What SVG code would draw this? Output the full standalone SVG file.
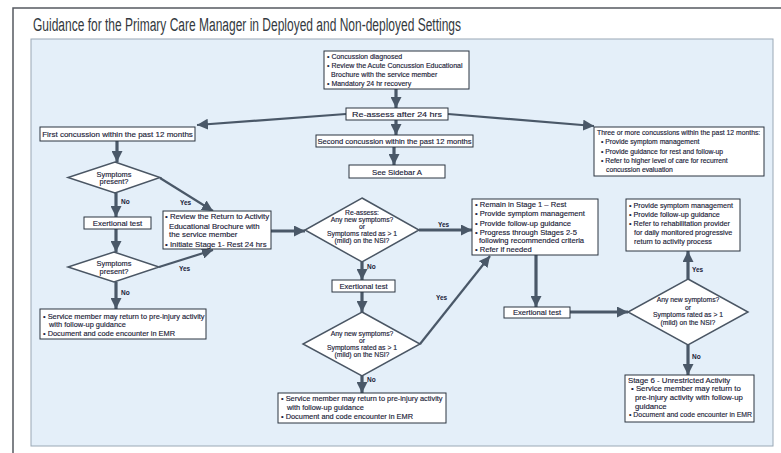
<svg xmlns="http://www.w3.org/2000/svg" width="781" height="453" viewBox="0 0 781 453">
<defs>
<style>
.t{font-family:"Liberation Sans",Arial,sans-serif;font-size:7.6px;fill:#1b2238;stroke:#1b2238;stroke-width:0.15}
.s70{font-size:7px}
.s68{font-size:6.8px}
.s72{font-size:7.2px}
.s74{font-size:7.4px}
.s78{font-size:7.8px}
.s80{font-size:8px}
.c{text-anchor:middle}
.lb{font-family:"Liberation Sans",Arial,sans-serif;font-size:6.5px;font-weight:bold;fill:#1b2238}
.box{fill:#ffffff;stroke:#2b3440;stroke-width:1}
.dia{fill:#ffffff;stroke:#4a5664;stroke-width:1.5}
.con{fill:none;stroke:#4a5868;stroke-width:3.2}
.thin{fill:none;stroke:#4a5868;stroke-width:2.2}
</style>
<marker id="ah" viewBox="0 0 10 10" refX="10" refY="5" markerWidth="11" markerHeight="11" markerUnits="userSpaceOnUse" orient="auto">
<path d="M0,0 L10,5 L0,10 z" fill="#4a5868"/>
</marker>
</defs>
<rect x="0" y="0" width="781" height="453" fill="#ffffff"/>
<path d="M13,453 L13,8 L781,8" fill="none" stroke="#555a60" stroke-width="1.5"/>
<text x="33" y="31" font-family="Liberation Sans,Arial,sans-serif" font-size="18" fill="#333940" textLength="428" lengthAdjust="spacingAndGlyphs">Guidance for the Primary Care Manager in Deployed and Non-deployed Settings</text>
<rect x="31" y="39" width="742" height="407" fill="#e4eff9" stroke="#9aa8b5" stroke-width="1"/>

<g id="connectors">
<line class="con" x1="396" y1="89" x2="396" y2="108" marker-end="url(#ah)"/>
<line class="thin" x1="346" y1="114" x2="197" y2="125" marker-end="url(#ah)"/>
<line class="thin" x1="448" y1="114" x2="594" y2="126" marker-end="url(#ah)"/>
<line class="con" x1="396" y1="120" x2="396" y2="135" marker-end="url(#ah)"/>
<line class="con" x1="394" y1="147" x2="394" y2="165" marker-end="url(#ah)"/>
<line class="con" x1="117" y1="141" x2="117" y2="162" marker-end="url(#ah)"/>
<line class="con" x1="116" y1="193" x2="116" y2="217" marker-end="url(#ah)"/>
<line class="thin" x1="160" y1="178" x2="213" y2="211" marker-end="url(#ah)"/>
<line class="con" x1="116" y1="229" x2="116" y2="252" marker-end="url(#ah)"/>
<line class="thin" x1="159" y1="267" x2="213" y2="250" marker-end="url(#ah)"/>
<line class="con" x1="116" y1="282" x2="116" y2="309" marker-end="url(#ah)"/>
<line class="con" x1="271" y1="231" x2="305" y2="231" marker-end="url(#ah)"/>
<line class="con" x1="419" y1="230" x2="472" y2="230" marker-end="url(#ah)"/>
<line class="con" x1="362" y1="262" x2="362" y2="280" marker-end="url(#ah)"/>
<line class="con" x1="362" y1="292" x2="362" y2="312" marker-end="url(#ah)"/>
<line class="thin" x1="420" y1="344" x2="490" y2="256" marker-end="url(#ah)"/>
<line class="con" x1="362" y1="376" x2="362" y2="393" marker-end="url(#ah)"/>
<line class="con" x1="536" y1="255" x2="536" y2="307" marker-end="url(#ah)"/>
<line class="con" x1="570" y1="312" x2="628" y2="312" marker-end="url(#ah)"/>
<line class="con" x1="688" y1="279" x2="688" y2="251" marker-end="url(#ah)"/>
<line class="con" x1="688" y1="345" x2="688" y2="375" marker-end="url(#ah)"/>
<text class="lb" x="121" y="204">No</text>
<text class="lb" x="180" y="205">Yes</text>
<text class="lb" x="179" y="271">Yes</text>
<text class="lb" x="121" y="295">No</text>
<text class="lb" x="438" y="227">Yes</text>
<text class="lb" x="367" y="269">No</text>
<text class="lb" x="436" y="300">Yes</text>
<text class="lb" x="367" y="382">No</text>
<text class="lb" x="692" y="272">Yes</text>
<text class="lb" x="692" y="359">No</text>
</g>

<g id="n-diagnosed">
<rect class="box" x="324" y="51" width="145" height="38"/>
<text class="t s70" x="327" y="58.5">• Concussion diagnosed</text>
<text class="t s70" x="327" y="67.5">• Review the Acute Concussion Educational</text>
<text class="t s70" x="331" y="76.5">Brochure with the  service member</text>
<text class="t s70" x="327" y="85.5">• Mandatory 24 hr recovery</text>
</g>
<g id="n-reassess">
<rect class="box" x="346" y="108" width="102" height="12"/>
<text class="t" x="352" y="117" textLength="90" lengthAdjust="spacingAndGlyphs">Re-assess after 24 hrs</text>
</g>
<g id="n-second">
<rect class="box" x="316" y="135" width="157" height="12"/>
<text class="t" x="394.5" y="144" text-anchor="middle">Second concussion within the past 12 months</text>
</g>
<g id="n-sidebar">
<rect class="box" x="349" y="165" width="96" height="13"/>
<text class="t s78 c" x="397" y="174.5">See Sidebar A</text>
</g>
<g id="n-three">
<rect class="box" x="594" y="127" width="170" height="49"/>
<text class="t s68" x="597" y="135">Three or more concussions within the past 12 months:</text>
<text class="t s68" x="601" y="144">• Provide symptom management</text>
<text class="t s68" x="601" y="154">• Provide guidance for rest and follow-up</text>
<text class="t s68" x="601" y="163">• Refer to higher level of care for recurrent</text>
<text class="t s68" x="606" y="172">concussion evaluation</text>
</g>
<g id="n-first">
<rect class="box" x="40" y="127" width="155" height="14"/>
<text class="t s80 c" x="117.5" y="137">First concussion within the past 12 months</text>
</g>
<g id="d-symptoms1">
<polygon class="dia" points="115,162 160,177.5 115,193 68,177.5"/>
<text class="t s74 c" x="114" y="176.5">Symptoms</text>
<text class="t s74 c" x="114" y="184">present?</text>
</g>
<g id="n-exert1">
<rect class="box" x="84" y="217" width="67" height="12"/>
<text class="t s78 c" x="117.5" y="225.8">Exertional test</text>
</g>
<g id="n-review">
<rect class="box" x="163" y="211" width="108" height="38"/>
<text class="t s78" x="165" y="218.5">• Review the Return to Activity</text>
<text class="t s78" x="169" y="228.5">Educational Brochure with</text>
<text class="t s78" x="169" y="237">the service member</text>
<text class="t s78" x="165" y="247">• Initiate Stage 1- Rest   24 hrs</text>
</g>
<g id="d-symptoms2">
<polygon class="dia" points="114,252 159,267 114,282 68,267"/>
<text class="t s74 c" x="114" y="266">Symptoms</text>
<text class="t s74 c" x="114" y="273.5">present?</text>
</g>
<g id="n-return1">
<rect class="box" x="40" y="309" width="166" height="30"/>
<text class="t s74" x="43" y="318.5">• Service member may return to pre-injury activity</text>
<text class="t s74" x="49" y="327">with follow-up guidance</text>
<text class="t s74" x="43" y="336">• Document and code encounter in EMR</text>
</g>
<g id="d-reassess">
<polygon class="dia" points="362,198 419,230 362,262 305,230"/>
<text class="t s68 c" x="362" y="214.5">Re-assess:</text>
<text class="t s68 c" x="362" y="221.5">Any new symptoms?</text>
<text class="t s68 c" x="362" y="228.5">or</text>
<text class="t s68 c" x="362" y="235.5">Symptoms rated as &gt; 1</text>
<text class="t s68 c" x="362" y="242.5">(mild) on the NSI?</text>
</g>
<g id="n-exert2">
<rect class="box" x="332" y="280" width="63" height="12"/>
<text class="t c" x="363.5" y="288.8">Exertional test</text>
</g>
<g id="d-new1">
<polygon class="dia" points="362,312 420,344 362,376 303,344"/>
<text class="t s68 c" x="362" y="335.5">Any new symptoms?</text>
<text class="t s68 c" x="362" y="342.5">or</text>
<text class="t s68 c" x="362" y="349.5">Symptoms rated as &gt; 1</text>
<text class="t s68 c" x="362" y="356.5">(mild) on the NSI?</text>
</g>
<g id="n-return2">
<rect class="box" x="278" y="393" width="168" height="30"/>
<text class="t s74" x="281" y="401">• Service member may return to pre-injury activity</text>
<text class="t s74" x="287" y="410">with follow-up guidance</text>
<text class="t s74" x="281" y="419">• Document and code encounter in EMR</text>
</g>
<g id="n-remain">
<rect class="box" x="472" y="199" width="126" height="56"/>
<text class="t" x="475" y="207">• Remain in Stage 1 – Rest</text>
<text class="t" x="475" y="216">• Provide symptom management</text>
<text class="t" x="475" y="226">• Provide follow-up guidance</text>
<text class="t" x="475" y="234.5">• Progress through Stages 2-5</text>
<text class="t" x="479" y="243">following recommended criteria</text>
<text class="t" x="475" y="252">• Refer if needed</text>
</g>
<g id="n-exert3">
<rect class="box" x="504" y="307" width="66" height="11"/>
<text class="t c" x="537" y="315.3">Exertional test</text>
</g>
<g id="d-new2">
<polygon class="dia" points="688,279 748,312 688,345 628,312"/>
<text class="t s68 c" x="688" y="302">Any new symptoms?</text>
<text class="t s68 c" x="688" y="309.5">or</text>
<text class="t s68 c" x="688" y="317">Symptoms rated as &gt; 1</text>
<text class="t s68 c" x="688" y="324.5">(mild) on the NSI?</text>
</g>
<g id="n-rehab">
<rect class="box" x="626" y="199" width="114" height="52"/>
<text class="t s72" x="629" y="208">• Provide symptom management</text>
<text class="t s72" x="629" y="217">• Provide follow-up guidance</text>
<text class="t s72" x="629" y="226">• Refer to rehabilitation provider</text>
<text class="t s72" x="634" y="235">for daily monitored progressive</text>
<text class="t s72" x="634" y="244">return to activity process</text>
</g>
<g id="n-stage6">
<rect class="box" x="625" y="375" width="129" height="47"/>
<text class="t s78" x="628" y="382.5">Stage 6 - Unrestricted Activity</text>
<text class="t s78" x="631" y="391">• Service member may return to</text>
<text class="t s78" x="635" y="399.5">pre-injury activity with follow-up</text>
<text class="t s78" x="635" y="408.5">guidance</text>
<text class="t" x="629" y="417" textLength="123" lengthAdjust="spacingAndGlyphs">• Document and code encounter in EMR</text>
</g>
</svg>
